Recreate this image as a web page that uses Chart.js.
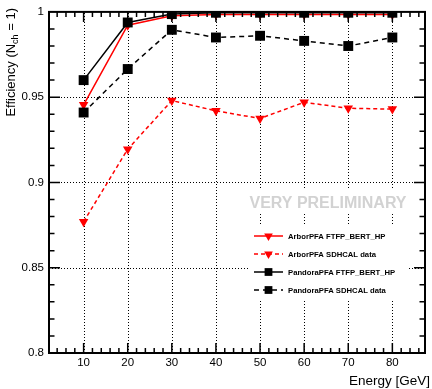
<!DOCTYPE html>
<html>
<head>
<meta charset="utf-8">
<script src="https://cdn.jsdelivr.net/npm/chart.js@4.4.1/dist/chart.umd.min.js"></script>
<style>
  body { margin: 0; background: #fff; }
  #wrap { width: 432px; height: 389px; }
</style>
</head>
<body>
<div id="wrap"><canvas id="effChart" width="432" height="389"></canvas></div>
<script>
// values
const energies = [10, 20, 30, 40, 50, 60, 70, 80];
const arborSim = [0.9455, 0.9922, 0.9978, 0.9985, 0.9985, 0.9985, 0.9985, 0.9985];
const arborData = [0.877, 0.9195, 0.948, 0.942, 0.9375, 0.947, 0.9435, 0.943];
const pandoraSim = [0.960, 0.9938, 0.9987, 0.9995, 0.9995, 0.9995, 0.9995, 0.9995];
const pandoraData = [0.941, 0.9665, 0.9895, 0.985, 0.986, 0.983, 0.980, 0.985];
const xTicks = [10, 20, 30, 40, 50, 60, 70, 80];
const yTicks = [0.8, 0.85, 0.9, 0.95, 1];
const seriesNames = ['ArborPFA FTFP_BERT_HP', 'ArborPFA SDHCAL data', 'PandoraPFA FTFP_BERT_HP', 'PandoraPFA SDHCAL data'];

const FONT = "'Liberation Sans', Arial, Helvetica, sans-serif";

function pts(ys) {
    return energies.map((e, i) => ({ x: e, y: ys[i] }));
}

function series(label, ys, color, dash, style, order) {
    return {
        label: label,
        data: pts(ys),
        borderColor: color,
        backgroundColor: color,
        borderWidth: 1.5,
        borderDash: dash,
        pointStyle: style,
        pointRadius: style === 'rect' ? 7 : 5.5,
        pointRotation: style === 'triangle' ? 180 : 0,
        pointBorderWidth: 0,
        pointBackgroundColor: color,
        tension: 0,
        fill: false,
        order: order
    };
}

// ROOT-like frame, ticks, grid, legend and labels
const rootStyle = {
    id: 'rootStyle',
    beforeDatasetsDraw(chart) {
        const ctx = chart.ctx;
        const a = chart.chartArea;
        const xs = chart.scales.x, ys = chart.scales.y;
        ctx.save();
        ctx.strokeStyle = '#000';
        ctx.lineWidth = 1;
        ctx.setLineDash([1, 2]);
        xTicks.forEach(v => {
            const px = Math.round(xs.getPixelForValue(v)) + 0.5;
            ctx.beginPath(); ctx.moveTo(px, a.bottom); ctx.lineTo(px, a.top); ctx.stroke();
        });
        yTicks.slice(1, -1).forEach(v => {
            const py = Math.round(ys.getPixelForValue(v)) + 0.5;
            ctx.beginPath(); ctx.moveTo(a.left, py); ctx.lineTo(a.right, py); ctx.stroke();
        });
        ctx.restore();
    },
    afterDatasetsDraw(chart) {
        const ctx = chart.ctx;
        const a = chart.chartArea;
        const xs = chart.scales.x, ys = chart.scales.y;
        ctx.save();

        // "VERY PRELIMINARY" box
        ctx.fillStyle = '#fff';
        ctx.fillRect(245, 189, 166, 23);
        ctx.fillStyle = '#d2d2d2';
        ctx.font = 'bold 16px ' + FONT;
        ctx.textAlign = 'center';
        ctx.textBaseline = 'alphabetic';
        ctx.fillText('VERY PRELIMINARY', 328, 208);

        // legend
        ctx.fillStyle = '#fff';
        ctx.fillRect(248, 225, 159, 75);
        const ds = chart.data.datasets;
        ctx.font = 'bold 7.7px ' + FONT;
        ctx.textAlign = 'left';
        ctx.textBaseline = 'middle';
        seriesNames.forEach((name, i) => {
            const d = ds.find(s => s.label === name);
            const y = 236 + i * 18;
            ctx.strokeStyle = d.borderColor;
            ctx.fillStyle = d.borderColor;
            ctx.lineWidth = 1.5;
            ctx.setLineDash(d.borderDash);
            ctx.beginPath(); ctx.moveTo(254, y); ctx.lineTo(283, y); ctx.stroke();
            ctx.setLineDash([]);
            Chart.helpers.drawPoint(ctx, {
                pointStyle: d.pointStyle,
                radius: d.pointStyle === 'rect' ? 5.5 : 5,
                rotation: d.pointRotation,
                borderWidth: 0
            }, 268.5, y);
            ctx.fillStyle = '#000';
            ctx.fillText(name, 288, y + 0.5);
        });

        // frame
        ctx.setLineDash([]);
        ctx.strokeStyle = '#000';
        ctx.lineWidth = 2;
        ctx.strokeRect(a.left, a.top, a.right - a.left, a.bottom - a.top);

        // ticks
        ctx.lineWidth = 1.5;
        ctx.beginPath();
        for (let v = 4; v <= 86; v += 2) {
            const px = xs.getPixelForValue(v);
            const len = v % 10 === 0 ? 10 : 5;
            ctx.moveTo(px, a.bottom); ctx.lineTo(px, a.bottom - len);
            ctx.moveTo(px, a.top); ctx.lineTo(px, a.top + len);
        }
        for (let k = 81; k <= 99; k++) {
            const py = ys.getPixelForValue(k / 100);
            const len = k % 5 === 0 ? 11 : 5.5;
            ctx.moveTo(a.left, py); ctx.lineTo(a.left + len, py);
            ctx.moveTo(a.right, py); ctx.lineTo(a.right - len, py);
        }
        ctx.stroke();

        // axis titles
        ctx.fillStyle = '#000';
        ctx.textBaseline = 'alphabetic';
        ctx.font = '13.5px ' + FONT;
        ctx.textAlign = 'right';
        ctx.fillText('Energy [GeV]', 430, 385);

        ctx.translate(15, 8);
        ctx.rotate(-Math.PI / 2);
        ctx.textAlign = 'left';
        const big = '13px ' + FONT, small = '9px ' + FONT;
        const p1 = 'Efficiency (N', p2 = 'ch', p3 = ' = 1)';
        ctx.font = big; const w1 = ctx.measureText(p1).width, w3 = ctx.measureText(p3).width;
        ctx.font = small; const w2 = ctx.measureText(p2).width;
        let x0 = -(w1 + w2 + w3);
        ctx.font = big; ctx.fillText(p1, x0, 0);
        ctx.font = small; ctx.fillText(p2, x0 + w1, 3);
        ctx.font = big; ctx.fillText(p3, x0 + w1 + w2, 0);
        ctx.restore();
    }
};

const ctx = document.getElementById('effChart').getContext('2d');
const effChart = new Chart(ctx, {
    type: 'line',
    data: {
        datasets: [
            series(seriesNames[0], arborSim, '#ff0000', [], 'triangle', 2),
            series(seriesNames[1], arborData, '#ff0000', [4, 3], 'triangle', 3),
            series(seriesNames[2], pandoraSim, '#000000', [], 'rect', 1),
            series(seriesNames[3], pandoraData, '#000000', [5, 4], 'rect', 0)
        ]
    },
    options: {
        responsive: false,
        animation: false,
        layout: { padding: { top: 10, right: 4, left: 0, bottom: 0 } },
        plugins: {
            legend: { display: false },
            tooltip: { enabled: false }
        },
        scales: {
            x: {
                type: 'linear',
                min: 2.15,
                max: 87.4,
                grid: { display: false, drawTicks: false },
                border: { display: false },
                afterBuildTicks: s => { s.ticks = xTicks.map(v => ({ value: v })); },
                afterFit: s => { s.height = 36; },
                ticks: {
                    padding: 3,
                    autoSkip: false,
                    maxRotation: 0,
                    color: '#000',
                    font: { family: FONT, size: 11.5 }
                }
            },
            y: {
                min: 0.8,
                max: 1,
                grid: { display: false, drawTicks: false },
                border: { display: false },
                afterBuildTicks: s => { s.ticks = yTicks.map(v => ({ value: v })); },
                afterFit: s => { s.width = 49; },
                ticks: {
                    padding: 5,
                    color: '#000',
                    font: { family: FONT, size: 11.5 },
                    callback: v => String(Number(v.toFixed(2)))
                }
            }
        }
    },
    plugins: [rootStyle]
});
</script>
</body>
</html>
